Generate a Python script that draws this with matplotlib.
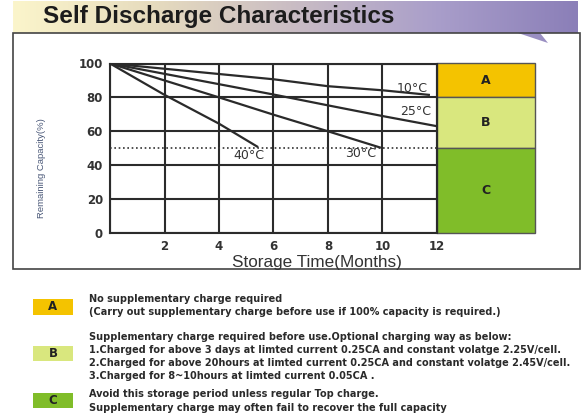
import numpy as np
import matplotlib
matplotlib.use("Agg")
import matplotlib.pyplot as plt
from matplotlib.patches import Rectangle, Polygon
from matplotlib.colors import LinearSegmentedColormap

plt.rcParams['font.family'] = ['DejaVu Sans']

# curve data (months, remaining capacity %)
months_10c = [0, 6, 8, 10, 11.7]
cap_10c = [100, 90.7, 86.6, 84.2, 81.5]
months_25c = [0, 6, 8, 10, 12]
cap_25c = [100, 81.7, 75.3, 69, 63]
months_30c = [0, 4, 6, 8, 9.9]
cap_30c = [100, 80, 69.8, 60, 50.5]
months_40c = [0, 2, 4, 5.4]
cap_40c = [100, 81.5, 64.5, 51]

curve_labels = ['10°C', '25°C', '30°C', '40°C']
label_pos = [(11.1, 85), (11.2, 71.4), (9.2, 47), (5.1, 46)]

x_ticks = [0, 2, 4, 6, 8, 10, 12]
x_ticklabels = ['', '2', '4', '6', '8', '10', '12']
y_ticks = [0, 20, 40, 60, 80, 100]
limit_line = 50

# zones: name, bottom, top, colour
zone_names = ['A', 'B', 'C']
zone_bottom = [80, 50, 0]
zone_top = [100, 80, 50]
zone_colors = ['#F4C300', '#D9E77E', '#80BD29']

legend_text = {
    'A': ["No supplementary charge required",
          "(Carry out supplementary charge before use if 100% capacity is required.)"],
    'B': ["Supplementary charge required before use.Optional charging way as below:",
          "1.Charged for above 3 days at limted current 0.25CA and constant volatge 2.25V/cell.",
          "2.Charged for above 20hours at limted current 0.25CA and constant volatge 2.45V/cell.",
          "3.Charged for 8~10hours at limted current 0.05CA ."],
    'C': ["Avoid this storage period unless regular Top charge.",
          "Supplementary charge may often fail to recover the full capacity"],
}

W, H = 584, 418
fig = plt.figure(figsize=(W / 100, H / 100), dpi=100)
fig.patch.set_facecolor('white')


def fx(x):
    return x / W


def fy(y):
    return 1 - y / H


# title banner with gradient
bax = fig.add_axes([fx(13), fy(33), fx(578 - 13), (33 - 1) / H])
cmap = LinearSegmentedColormap.from_list('banner', ['#FBF5CB', '#E6DBBE', '#C9BCC4', '#A99ECA', '#8B7FB8'])
bax.imshow(np.linspace(0, 1, 256)[None, :], aspect='auto', cmap=cmap, extent=[0, 1, 0, 1])
bax.set_axis_off()
fig.text(fx(43), fy(16), 'Self Discharge Characteristics', fontsize=17.5, fontweight='bold',
         color='#1c1c1c', va='center', ha='left', family='Liberation Sans')
# bubble tail
fig.patches.append(Polygon([(fx(518), fy(33)), (fx(540), fy(33)), (fx(548), fy(43))],
                           closed=True, transform=fig.transFigure, facecolor='#9A8FC2',
                           edgecolor='none'))

# outer frame
fig.patches.append(Rectangle((fx(13), fy(269)), fx(580 - 13), (269 - 33) / H,
                             transform=fig.transFigure, facecolor='none',
                             edgecolor='#444444', linewidth=1.2))

# main plot
ax = fig.add_axes([fx(110), fy(233), fx(437 - 110), (233 - 63.5) / H])
ax.set_xlim(0, 12)
ax.set_ylim(0, 100)
ax.set_xticks(x_ticks)
ax.set_xticklabels(x_ticklabels)
ax.set_yticks(y_ticks)
ax.grid(True, color='#2b2b2b', linewidth=1.5)
ax.set_axisbelow(True)
for s in ax.spines.values():
    s.set_color('#2b2b2b')
    s.set_linewidth(1.5)
ax.tick_params(length=0, labelsize=8.5, colors='#333333', pad=5)
for t in ax.get_xticklabels() + ax.get_yticklabels():
    t.set_fontweight('bold')

ax.axhline(limit_line, color='#333333', linestyle=(0, (1, 1.6)), linewidth=1.2, zorder=3)

for xs, ys in [(months_10c, cap_10c), (months_25c, cap_25c), (months_30c, cap_30c), (months_40c, cap_40c)]:
    ax.plot(xs, ys, color='#2a2a2a', linewidth=1.6, zorder=4)

for lab, (lx, ly) in zip(curve_labels, label_pos):
    ax.text(lx, ly, lab, fontsize=9, color='#333333', ha='center', va='center', zorder=5)

zone_x0, zone_w = 12, 98 / 27.25
for name, b, t, c in zip(zone_names, zone_bottom, zone_top, zone_colors):
    ax.add_patch(Rectangle((zone_x0, b), zone_w, t - b, facecolor=c, edgecolor='#555555',
                           linewidth=1.0, clip_on=False, zorder=2))
    ax.text(zone_x0 + zone_w / 2, (b + t) / 2, name, fontsize=9, fontweight='bold',
            color='#222222', ha='center', va='center')

fig.text(fx(317), fy(262), 'Storage Time(Months)', fontsize=12.3, color='#333333',
         ha='center', va='center', family='Liberation Sans')
fig.text(fx(41), fy(168), 'Remaining Capacity(%)', fontsize=6.8, rotation=90,
         color='#4a5878', ha='center', va='center', family='Liberation Sans')

# legend area
box_y = {'A': (299, 315), 'B': (346, 361), 'C': (393, 408)}
text_y = {'A': [299, 312], 'B': [337, 350, 363, 376], 'C': [394, 408]}
for name, c in zip(zone_names, zone_colors):
    y0, y1 = box_y[name]
    fig.patches.append(Rectangle((fx(33), fy(y1)), fx(40), (y1 - y0) / H,
                                 transform=fig.transFigure, facecolor=c, edgecolor='none'))
    fig.text(fx(53), fy((y0 + y1) / 2), name, fontsize=8.5, fontweight='bold', color='#222222',
             ha='center', va='center')
    for line, ty in zip(legend_text[name], text_y[name]):
        fig.text(fx(89), fy(ty), line, fontsize=7, fontweight='bold', color='#2a2a2a',
                 ha='left', va='center')

fig.savefig('out.png', dpi=100)
